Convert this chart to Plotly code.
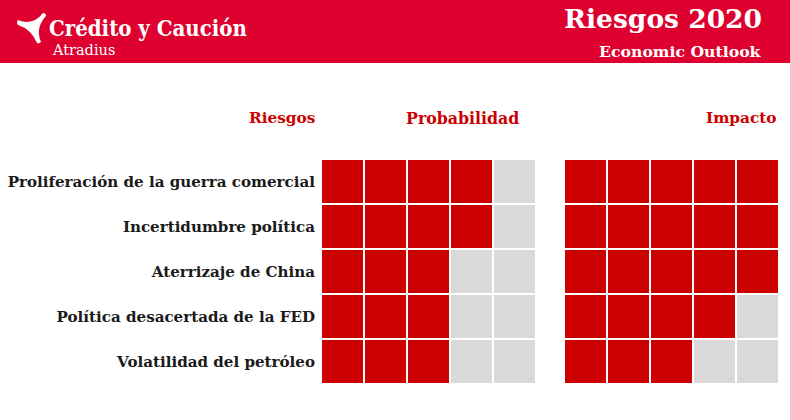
import plotly.graph_objects as go

# ---- data ----
risks = [
    "Proliferación de la guerra comercial",
    "Incertidumbre política",
    "Aterrizaje de China",
    "Política desacertada de la FED",
    "Volatilidad del petróleo",
]
probabilidad = [4, 4, 3, 3, 3]
impacto = [5, 5, 5, 4, 3]
levels = [1, 2, 3, 4, 5]

# ---- style ----
W, H = 790, 420
RED = "#CC0000"
BAND = "#DE002E"
GRAY = "#D9D9D9"
SLAB = "DejaVu Serif"


def px(x):
    return x / W


def py(y):
    return 1 - y / H


def grid(vals):
    return [[1 if lvl <= v else 0 for lvl in levels] for v in vals]


fig = go.Figure()
for vals, xa, ya in [(probabilidad, "x", "y"), (impacto, "x2", "y2")]:
    fig.add_trace(go.Heatmap(
        x=levels, y=risks, z=grid(vals), xaxis=xa, yaxis=ya,
        colorscale=[[0, GRAY], [1, RED]], zmin=0, zmax=1, showscale=False,
        xgap=2, ygap=2, hoverinfo="skip",
    ))

ydom = [py(384), py(159)]
fig.update_layout(
    width=W, height=H, margin=dict(l=0, r=0, t=0, b=0),
    paper_bgcolor="white", plot_bgcolor="white",
    xaxis=dict(domain=[px(321), px(536)], visible=False),
    xaxis2=dict(domain=[px(564), px(779)], visible=False, anchor="y2"),
    yaxis=dict(domain=ydom, type="category", autorange="reversed",
               showgrid=False, zeroline=False, showline=False, ticks="",
               ticklabelstandoff=5,
               tickvals=risks, ticktext=["<b>" + r + "</b>" for r in risks],
               tickfont=dict(family=SLAB, size=15.1, color="#1a1a1a"),
               anchor="x"),
    yaxis2=dict(domain=ydom, type="category", autorange="reversed",
                visible=False, anchor="x2"),
    showlegend=False,
)

# header band
fig.add_shape(type="rect", xref="paper", yref="paper", x0=0, x1=1,
              y0=py(63), y1=1, fillcolor=BAND, line_width=0, layer="below")


# logo icon (decoration)
def P(x, y):
    return "{:.5f} {:.5f}".format(px(x), py(y))


path = ("M " + P(18, 20) + " Q " + P(33, 26) + " " + P(43, 13) +
        " Q " + P(46, 13) + " " + P(46, 16) +
        " Q " + P(35, 28) + " " + P(41, 42) +
        " Q " + P(39, 44) + " " + P(37, 43) +
        " Q " + P(31, 29) + " " + P(18, 25) +
        " Q " + P(16, 22.5) + " " + P(18, 20) + " Z")
fig.add_shape(type="path", xref="paper", yref="paper", path=path,
              fillcolor="white", line_width=0)


def ann(text, x, y, size, color, anchor="left", family=SLAB):
    fig.add_annotation(text=text, x=px(x), y=py(y), xref="paper", yref="paper",
                       xanchor=anchor, yanchor="middle", showarrow=False,
                       font=dict(family=family, size=size, color=color))


ann("<b>Crédito y Caución</b>", 47, 28, 22, "white", family="DejaVu Serif Condensed")
ann("Atradius", 50, 50, 14.5, "white", family="DejaVu Serif")
ann("<b>Riesgos 2020</b>", 764, 19, 26.5, "white", anchor="right")
ann("<b>Economic Outlook</b>", 764, 51, 15.7, "white", anchor="right")

ann("<b>Riesgos</b>", 317, 118, 15.3, RED, anchor="right")
ann("<b>Probabilidad</b>", 521, 118, 15.8, RED, anchor="right")
ann("<b>Impacto</b>", 779, 118, 15.3, RED, anchor="right")

fig.write_html("out.html")
